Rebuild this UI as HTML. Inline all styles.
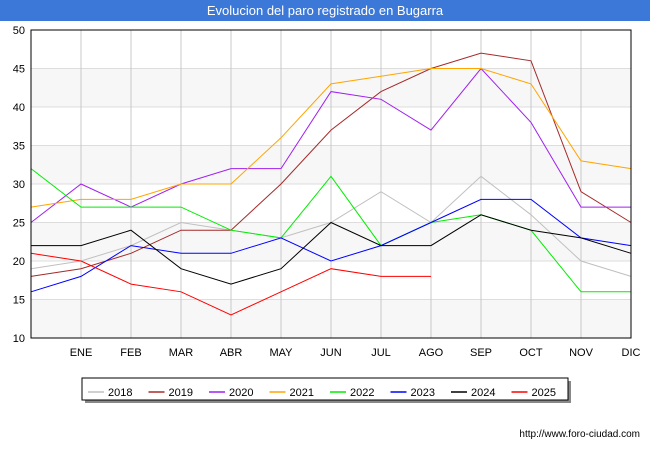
<!DOCTYPE html>
<html><head><meta charset="utf-8"><style>
body{margin:0;width:650px;height:450px;background:#fff;font-family:"Liberation Sans",sans-serif;overflow:hidden}
</style></head><body>
<svg width="650" height="450" xmlns="http://www.w3.org/2000/svg">
<rect x="0" y="0" width="650" height="21" fill="#3b78d8"/>
<text x="325" y="15" text-anchor="middle" font-size="13" fill="#fff">Evolucion del paro registrado en Bugarra</text>
<g id="grid"></g><g id="series"></g>
<rect x="31" y="30" width="600" height="308" fill="none" stroke="#000"/>
<g id="axes" font-size="11" fill="#000"></g>
<g id="legend"></g>
<text x="640" y="437" text-anchor="end" font-size="10" fill="#000">http://www.foro-ciudad.com</text>
</svg>
<script>
const months=["","ENE","FEB","MAR","ABR","MAY","JUN","JUL","AGO","SEP","OCT","NOV","DIC"];
const yTicks=[10,15,20,25,30,35,40,45,50];
const years=["2018","2019","2020","2021","2022","2023","2024","2025"];
const colors=["#c0c0c0","#a52a2a","#a020f0","#ffa500","#00ee00","#0000ff","#000000","#ff0000"];
const s2018=[19,20,22,25,24,23,25,29,25,31,26,20,18];
const s2019=[18,19,21,24,24,30,37,42,45,47,46,29,25];
const s2020=[25,30,27,30,32,32,42,41,37,45,38,27,27];
const s2021=[27,28,28,30,30,36,43,44,45,45,43,33,32];
const s2022=[32,27,27,27,24,23,31,22,25,26,24,16,16];
const s2023=[16,18,22,21,21,23,20,22,25,28,28,23,22];
const s2024=[22,22,24,19,17,19,25,22,22,26,24,23,21];
const s2025=[21,20,17,16,13,16,19,18,18];
const series=[s2018,s2019,s2020,s2021,s2022,s2023,s2024,s2025];
const NS="http://www.w3.org/2000/svg";
const x0=31,x1=631,y0=338,y1=30;
const X=i=>x0+i*(x1-x0)/12;
const Y=v=>y0-(v-10)*(y0-y1)/40;
function mk(t,a,p){const e=document.createElementNS(NS,t);for(const k in a)e.setAttribute(k,a[k]);p.appendChild(e);return e;}
const g=document.getElementById('grid'),ax=document.getElementById('axes');
for(let v=10;v<50;v+=5){if(((v-10)/5)%2===0){const r=mk('rect',{x:x0,y:Y(v+5),width:x1-x0,height:Y(v)-Y(v+5),fill:'#f7f7f7'},g);

}}
yTicks.forEach(v=>{const l=mk('line',{x1:x0,x2:x1,y1:Y(v),y2:Y(v),stroke:'#ddd'},g);


const t=mk('text',{x:x0-6,y:Y(v)+4,'text-anchor':'end'},ax);t.textContent=v;

});
months.forEach((m,i)=>{if(i>0&&i<12){const l=mk('line',{x1:X(i),x2:X(i),y1:y1,y2:y0,stroke:'#c8c8c8'},g);

}
if(m){const t=mk('text',{x:X(i),y:356,'text-anchor':'middle'},ax);t.textContent=m;

}});
const sg=document.getElementById('series');
series.forEach((s,k)=>{const p=mk('polyline',{points:s.map((v,i)=>X(i)+','+Y(v)).join(' '),fill:'none',stroke:colors[k],'stroke-width':1},sg);

});
const lg=document.getElementById('legend');
mk('rect',{x:85,y:381,width:486,height:22,fill:'#888'},lg);
const box=mk('rect',{x:82,y:378,width:486,height:22,fill:'#fff',stroke:'#000'},lg);


years.forEach((y,k)=>{const bx=88+k*60.5;
const e=mk('g',{},lg);


mk('line',{x1:bx,x2:bx+16,y1:392,y2:392,stroke:colors[k],'stroke-width':1.5},e);
const t=mk('text',{x:bx+20,y:396,'font-size':11},e);t.textContent=y;});
</script>
</body></html>
